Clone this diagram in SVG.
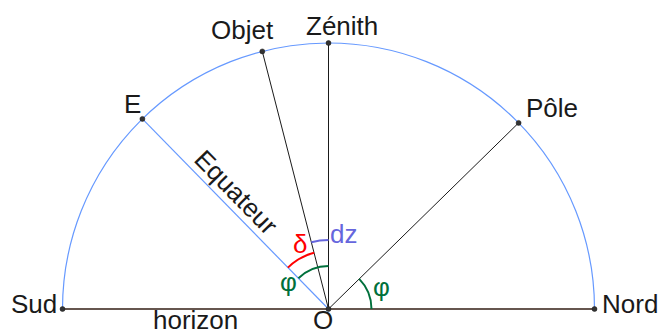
<svg xmlns="http://www.w3.org/2000/svg" width="659" height="335" viewBox="0 0 659 335">
<style>
  text { font-family: "Liberation Sans", Arial, sans-serif; font-size: 26px; fill: #1a1a1a; }
  .ray { stroke: #1a1a1a; stroke-width: 1; fill: none; }
  .blue { stroke: #6699ff; stroke-width: 1.2; fill: none; }
  .horizon { stroke: #66564f; stroke-width: 2; fill: none; }
  .arc { fill: none; stroke-width: 2; }
  .pt { fill: #333333; stroke: #1a1a1a; stroke-width: 0.5; }
</style>
<rect width="659" height="335" fill="#ffffff"/>
<g id="connectors">
  <path class="blue" d="M 62.5 309 A 266 266 0 0 1 594.5 309"/>
  <line class="horizon" x1="62.5" y1="309" x2="594.5" y2="309"/>
  <line class="blue" x1="328.5" y1="309" x2="142.4" y2="118.9"/>
  <line class="ray" x1="328.5" y1="309" x2="262.3" y2="51.4"/>
  <line class="ray" x1="328.5" y1="309" x2="328.5" y2="43"/>
  <line class="ray" x1="328.5" y1="309" x2="518.6" y2="122.9"/>
  <path class="arc" stroke="#ff0000" d="M 287.9 267.6 A 58 58 0 0 1 314.1 252.8"/>
  <path class="arc" stroke="#00703c" d="M 298.4 278.3 A 43 43 0 0 1 328.5 266"/>
  <path class="arc" stroke="#6666dd" d="M 311.3 242.2 A 69 69 0 0 1 328.5 240"/>
  <path class="arc" stroke="#00703c" d="M 371.5 309 A 43 43 0 0 0 359.2 278.9"/>
</g>
<g id="sud"><circle class="pt" cx="62.5" cy="309" r="2.5"/><text x="11" y="313">Sud</text></g>
<g id="nord"><circle class="pt" cx="594.5" cy="309" r="2.5"/><text x="602" y="313">Nord</text></g>
<g id="O"><circle class="pt" cx="328.5" cy="309" r="2.5"/><text x="313" y="329">O</text></g>
<g id="E"><circle class="pt" cx="142.4" cy="118.9" r="2.5"/><text x="124" y="113">E</text></g>
<g id="objet"><circle class="pt" cx="262.3" cy="51.4" r="2.5"/><text x="211" y="39">Objet</text></g>
<g id="zenith"><circle class="pt" cx="328.5" cy="43" r="2.5"/><text x="306" y="35">Zénith</text></g>
<g id="pole"><circle class="pt" cx="518.6" cy="122.9" r="2.5"/><text x="526" y="117">Pôle</text></g>
<g id="labels">
  <text x="153" y="329">horizon</text>
  <text transform="translate(192.7,160.7) rotate(45.6)">Equateur</text>
  <text x="293" y="253" style="fill:#ff0000">δ</text>
  <text x="330" y="243" style="fill:#6666dd">dz</text>
  <text x="280" y="291" style="fill:#00703c">φ</text>
  <text x="373" y="296" style="fill:#00703c">φ</text>
</g>
</svg>
